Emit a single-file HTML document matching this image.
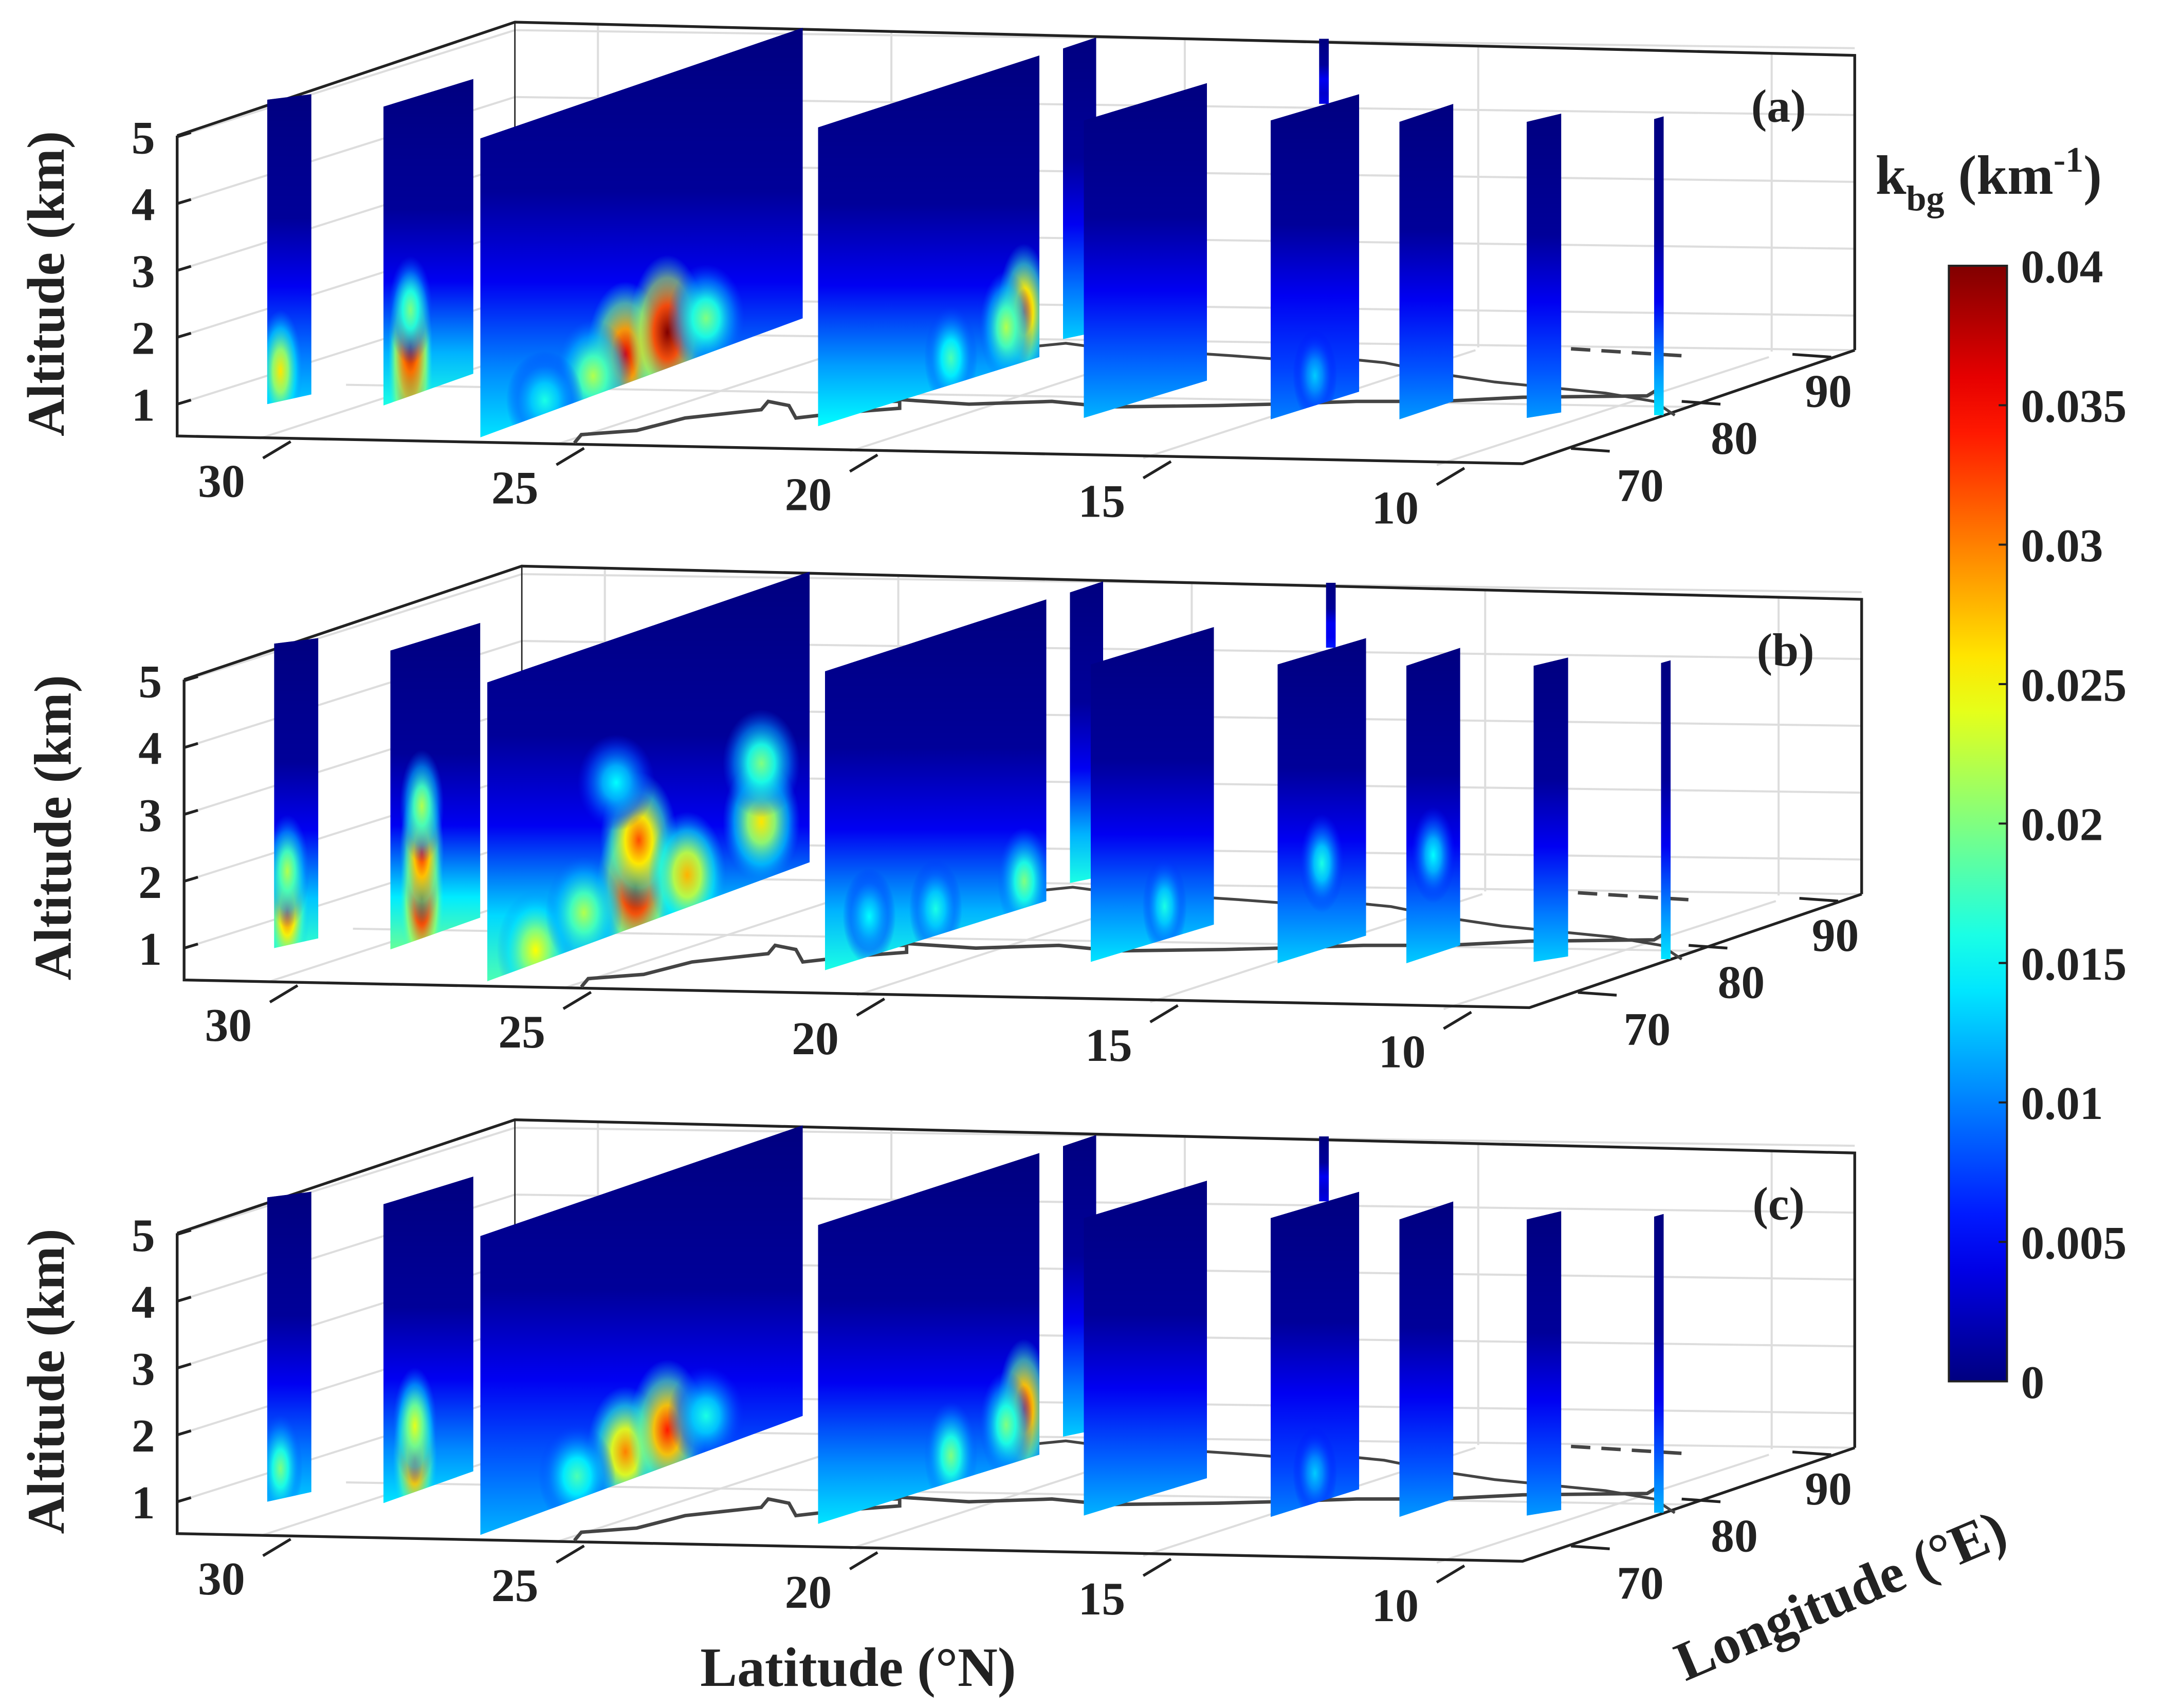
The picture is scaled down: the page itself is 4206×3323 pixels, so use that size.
<!DOCTYPE html>
<html><head><meta charset="utf-8">
<style>
html,body{margin:0;padding:0;background:#fff;}
svg{display:block;}
text{font-family:"Liberation Serif",serif;font-weight:bold;fill:#222;}
</style></head>
<body>
<svg id="chart" width="4206" height="3323" viewBox="0 0 1562 1234" preserveAspectRatio="none" xmlns="http://www.w3.org/2000/svg">
<defs id="defs"></defs>
<g id="panels"></g>
<g id="colorbar"></g>
<text x="620" y="1218" font-size="40" text-anchor="middle">Latitude (°N)</text>
<text x="0" y="0" font-size="40" text-anchor="middle" transform="translate(1335,1165) rotate(-23)">Longitude (°E)</text>
</svg>
<script>
// ---- data ----
const panelLabels = ['(a)','(b)','(c)'];
const altTicks = [1,2,3,4,5];
const latTicks = [30,25,20,15,10];
const lonTicks = [70,80,90];
const cbarTicks = [0,0.005,0.01,0.015,0.02,0.025,0.03,0.035,0.04];
// curtain geometry (screen quads; geometry, not data)
const curtains = [
 [193,225,72,68,292,285],[277,342,77,57,293,270],[347,580,100,20,316,230],
 [591,751,92,40,308,258],[768,792,35,27,245,240],[783,872,87,60,302,275],
 [918,982,87,68,303,283],[1011,1050,88,75,303,290],[1103,1128,88,82,302,298],
 [1195,1202,86,84,300,300],[953,960,28,28,75,75]
];
// near-surface background value per curtain, per panel
const baseA = [0.013,0.016,0.014,0.015,0.013,0.012,0.010,0.011,0.011,0.014,0.004];
const baseB = [0.017,0.019,0.018,0.016,0.016,0.014,0.013,0.013,0.013,0.014,0.006];
const baseC = [0.013,0.014,0.012,0.014,0.013,0.012,0.010,0.011,0.011,0.012,0.004];
// hotspots: [curtainIndex, fraction across, altitude km, value]
const hotA = [[0,0.3,0.95,0.026],[1,0.3,0.85,0.04],[1,0.3,1.25,0.038],[1,0.3,1.8,0.02],[2,0.45,0.95,0.036],[2,0.58,1.05,0.04],[2,0.35,0.8,0.022],[2,0.7,1.05,0.02],[2,0.2,0.7,0.016],[3,0.93,1.25,0.032],[3,0.6,0.9,0.018],[3,0.85,1.1,0.022],[6,0.5,0.95,0.013]];
const hotB = [[0,0.3,1.0,0.032],[0,0.3,1.6,0.022],[1,0.35,1.1,0.04],[1,0.35,1.8,0.034],[1,0.35,2.5,0.022],[2,0.46,1.1,0.04],[2,0.47,1.8,0.032],[2,0.62,1.0,0.028],[2,0.15,0.7,0.025],[2,0.85,1.4,0.026],[2,0.85,2.3,0.02],[2,0.4,2.8,0.015],[2,0.3,1.0,0.022],[3,0.9,0.9,0.02],[3,0.5,0.9,0.016],[3,0.2,1.1,0.015],[5,0.6,1.0,0.016],[6,0.5,1.8,0.016],[7,0.5,2.0,0.015]];
const hotC = [[0,0.3,0.95,0.02],[1,0.35,1.0,0.034],[1,0.35,1.5,0.024],[2,0.45,0.95,0.03],[2,0.58,1.05,0.034],[2,0.3,0.85,0.018],[2,0.7,1.05,0.016],[3,0.93,1.25,0.034],[3,0.6,0.9,0.02],[3,0.85,1.1,0.02],[6,0.5,0.95,0.013]];
const panelBase = [baseA,baseB,baseC];
const panelHot = [hotA,hotB,hotC];
const panelDY = [0,393,793];
const panelDX = [0,5,0];

function jet(v){
  let t=Math.max(0,Math.min(1,v/0.04));
  const c=x=>Math.round(255*Math.max(0,Math.min(1,x)));
  return `rgb(${c(1.5-Math.abs(4*t-3))},${c(1.5-Math.abs(4*t-2))},${c(1.5-Math.abs(4*t-1))})`;
}
const NS='http://www.w3.org/2000/svg';
function mk(tag,attrs,parent){const e=document.createElementNS(NS,tag);for(const k in attrs)e.setAttribute(k,attrs[k]);if(parent)parent.appendChild(e);return e;}
const defs=document.getElementById('defs');
const root=document.getElementById('panels');
function altY(c,f,alt){const yb=c[4]+(c[5]-c[4])*f, yt=c[2]+(c[3]-c[2])*f;return yb-(alt-0.5)/4.5*(yb-yt);}
function axisY(a){return 292-(a-1)*48.3;}

panelLabels.forEach((lab,p)=>{
  const dy=panelDY[p], dx=panelDX[p];
  const g=mk('g',{transform:`translate(${dx},${dy})`});
  
  
  root.appendChild(g);
  const L={stroke:'#222','stroke-width':2,fill:'none'};
  const G={stroke:'#ddd','stroke-width':1.5,fill:'none'};
  for(let a=1;a<=5;a++){
    const yl=axisY(a);const yr=yl-(315-240)-2;
    mk('line',Object.assign({x1:128,y1:yl,x2:372,y2:yr},G),g);
    mk('line',Object.assign({x1:372,y1:yr,x2:1340,y2:yr+13},G),g);
  }
  for(let i=0;i<5;i++){const x=432+i*212;mk('line',Object.assign({x1:x,y1:18+i*5,x2:x,y2:242+i*3},G),g);}
  latTicks.forEach((t,i)=>{const x=190+i*212,y=316+i*5;mk('line',Object.assign({x1:x,y1:y,x2:x+240,y2:y-78},G),g);});
  mk('line',Object.assign({x1:372,y1:240,x2:1340,y2:253},G),g);
  mk('line',Object.assign({x1:250,y1:278,x2:1220,y2:294},G),g);
  mk('polyline',Object.assign({points:'128,98 372,16 1340,40 1340,253'},L),g);
  mk('line',Object.assign({x1:372,y1:16,x2:372,y2:240},{stroke:'#222','stroke-width':1}),g);
  mk('polyline',Object.assign({points:'128,98 128,315 1100,335 1340,253'},L),g);
  mk('polyline',{points:'415,320 420,314 460,311 495,302 550,296 555,290 570,293 575,302 610,298 650,295 650,290 620,290 610,296',fill:'none',stroke:'#444','stroke-width':2.5},g);
  mk('polyline',{points:'610,296 640,288 700,292 760,290 800,294 880,293 920,292 980,290 1040,290 1100,287 1190,286 1200,280',fill:'none',stroke:'#444','stroke-width':2.5},g);
  mk('polyline',{points:'750,250 770,248 800,252 830,253 860,255 890,257 930,260 960,258 1000,262 1040,270 1080,276 1120,280 1160,284 1195,290 1210,300',fill:'none',stroke:'#444','stroke-width':2},g);
  mk('line',{x1:1135,y1:252,x2:1215,y2:257,stroke:'#444','stroke-width':2.5,'stroke-dasharray':'14,8'},g);
  curtains.forEach((c,i)=>{
    const id='cl'+p+'_'+i;
    const cp=mk('clipPath',{id:id},defs);
    const pts=`${c[0]},${c[4]} ${c[0]},${c[2]} ${c[1]},${c[3]} ${c[1]},${c[5]}`;
    mk('polygon',{points:pts},cp);
    const gid='lg'+p+'_'+i;
    const lg=mk('linearGradient',{id:gid,x1:0,y1:0,x2:0,y2:1},defs);
    const b=panelBase[p][i];
    mk('stop',{offset:'0','stop-color':jet(0)},lg);
    mk('stop',{offset:'0.4','stop-color':jet(0.001)},lg);
    mk('stop',{offset:'0.62','stop-color':jet(0.0045)},lg);
    mk('stop',{offset:'0.84','stop-color':jet(b*0.75)},lg);
    mk('stop',{offset:'1','stop-color':jet(b)},lg);
    const cg=mk('g',{'clip-path':`url(#${id})`},g);
    const poly=mk('polygon',{points:pts,fill:`url(#${gid})`},cg);
    
    
    panelHot[p].filter(h=>h[0]===i).forEach((h,k)=>{
      const rid='rg'+p+'_'+i+'_'+k;
      const rg=mk('radialGradient',{id:rid},defs);
      mk('stop',{offset:'0','stop-color':jet(h[3]),'stop-opacity':1},rg);
      mk('stop',{offset:'0.35','stop-color':jet(h[3]*0.8),'stop-opacity':0.95},rg);
      mk('stop',{offset:'0.7','stop-color':jet(h[3]*0.55),'stop-opacity':0.6},rg);
      mk('stop',{offset:'1','stop-color':jet(h[3]*0.4),'stop-opacity':0}, rg);
      const w=c[1]-c[0];
      const e=mk('ellipse',{cx:c[0]+w*h[1],cy:altY(c,h[1],h[2]),rx:Math.max(16,Math.min(40,w*0.12)),ry:22+34*h[3]/0.04,fill:`url(#${rid})`},cg);
      
      
    });
  });
  altTicks.forEach(a=>{
    const y=axisY(a);
    mk('line',{x1:128,y1:y,x2:138,y2:y-3,stroke:'#222','stroke-width':2},g);
    const t=mk('text',{x:112,y:y+12,'font-size':34,'text-anchor':'end'},g);
    t.textContent=a;
    
    
  });
  latTicks.forEach((v,i)=>{
    const x=210+i*212,y=319+i*4.8;
    mk('line',{x1:x,y1:y,x2:x-20,y2:y+12,stroke:'#222','stroke-width':2},g);
    const t=mk('text',{x:x-50,y:y+40,'font-size':34,'text-anchor':'middle'},g);
    t.textContent=v;
    
    
  });
  lonTicks.forEach((v,i)=>{
    const x=1135+i*80,y=324-i*34;
    mk('line',{x1:x,y1:y,x2:x+28,y2:y+2,stroke:'#222','stroke-width':2},g);
    const t=mk('text',{x:x+50-i*12,y:y+38,'font-size':34,'text-anchor':'middle'},g);
    t.textContent=v;
    
    
  });
  const yl=mk('text',{x:0,y:0,'font-size':38,'text-anchor':'middle',transform:'translate(46,205) rotate(-90)'},g);
  yl.textContent='Altitude (km)';
  
  
  const pl=mk('text',{x:1285,y:88,'font-size':34,'text-anchor':'middle'},g);
  pl.textContent=lab;
  
  
});

const cb=document.getElementById('colorbar');
const cbg=mk('linearGradient',{id:'cbg',x1:0,y1:1,x2:0,y2:0},defs);
for(let i=0;i<=20;i++){mk('stop',{offset:i/20,'stop-color':jet(0.04*i/20)},cbg);}
const cbr=mk('rect',{x:1408,y:192,width:42,height:806,fill:'url(#cbg)',stroke:'#222','stroke-width':1.5},cb);


cbarTicks.forEach(v=>{
  const y=998-v/0.04*806;
  mk('line',{x1:1444,y1:y,x2:1450,y2:y,stroke:'#222','stroke-width':1.5},cb);
  const t=mk('text',{x:1460,y:y+12,'font-size':34},cb);
  t.textContent=v;
  
  
});
const ct=mk('text',{x:1355,y:140,'font-size':40},cb);
ct.innerHTML='k<tspan font-size="26" dy="12">bg</tspan><tspan dy="-12"> (km</tspan><tspan font-size="26" dy="-16">-1</tspan><tspan dy="16">)</tspan>';


</script>
</body></html>
